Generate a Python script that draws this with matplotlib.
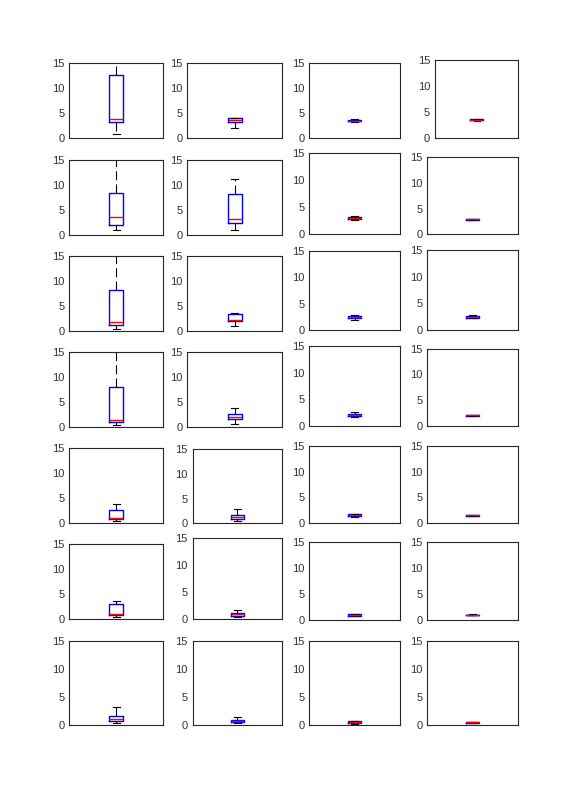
import matplotlib
matplotlib.use("Agg")
import matplotlib.pyplot as plt
from matplotlib import font_manager

plt.rcParams['lines.scale_dashes'] = False

# pick the regular (non-narrow) Liberation Sans face
_font = None
for f in font_manager.findSystemFonts():
    if f.endswith('LiberationSans-Regular.ttf'):
        _font = f
        break
if _font:
    tick_fp = font_manager.FontProperties(fname=_font, size=8)
else:
    tick_fp = font_manager.FontProperties(family='DejaVu Sans', size=7.5)

# ---- data: 7 rows x 4 columns of box statistics ----
whislo = [
    [0.8, 2.1, 3.2, 3.4],
    [0.95, 1.0, 2.6, 2.8],
    [0.5, 1.0, 1.9, 2.2],
    [0.4, 0.7, 1.6, 1.85],
    [0.45, 0.5, 1.2, 1.35],
    [0.4, 0.3, 0.7, 0.9],
    [0.36, 0.3, 0.2, 0.3],
]
q1 = [
    [3.2, 3.2, 3.35, 3.45],
    [1.9, 2.3, 2.8, 2.85],
    [1.2, 2.0, 2.3, 2.35],
    [0.95, 1.6, 1.8, 1.9],
    [0.8, 0.9, 1.3, 1.4],
    [0.74, 0.62, 0.85, 0.95],
    [0.71, 0.54, 0.35, 0.38],
]
med = [
    [3.8, 3.6, 3.5, 3.55],
    [3.5, 3.1, 3.0, 2.9],
    [1.9, 2.2, 2.5, 2.5],
    [1.35, 2.0, 2.0, 2.0],
    [1.1, 1.2, 1.5, 1.5],
    [0.94, 0.93, 1.0, 1.0],
    [1.0, 0.77, 0.5, 0.45],
]
q3 = [
    [12.5, 4.1, 3.65, 3.65],
    [8.4, 8.2, 3.15, 2.95],
    [8.3, 3.4, 2.7, 2.65],
    [8.1, 2.6, 2.2, 2.1],
    [2.6, 1.7, 1.7, 1.6],
    [3.0, 1.18, 1.15, 1.05],
    [1.67, 0.95, 0.65, 0.52],
]
whishi = [
    [17.0, 4.1, 3.8, 3.7],
    [17.0, 11.2, 3.35, 3.0],
    [17.0, 3.6, 2.9, 2.75],
    [17.0, 3.8, 2.6, 2.15],
    [3.9, 2.8, 1.8, 1.65],
    [3.7, 1.74, 1.2, 1.1],
    [3.15, 1.37, 0.8, 0.6],
]
yticks = [0, 5, 10, 15]

# ---- layout (pixel boxes: left, right, top, bottom) ----
W, H = 574, 792
layout = [
    [(69.3, 163.3, 62.7, 138.3), (187.3, 282.3, 62.7, 138.3), (309.3, 400, 62.7, 138.3), (435, 518.3, 60, 138.3)],
    [(69.3, 163.3, 160, 234.7), (187.3, 282.3, 160, 234.7), (309.3, 400, 152.7, 234.3), (427.3, 517.7, 157.3, 234.3)],
    [(69.3, 163.3, 256, 331), (187.3, 282.3, 256, 331), (309.3, 400, 251, 330), (427.3, 517.7, 250.3, 330)],
    [(69.3, 163.3, 352, 427), (187.3, 282.3, 352, 427), (309.3, 400, 346.3, 425.7), (427.3, 517.7, 348.7, 425.7)],
    [(69.3, 163.3, 448.3, 523.3), (192.7, 281.7, 449.3, 523.3), (309.3, 400, 446, 523), (427.3, 517.7, 446, 523)],
    [(69.3, 163.3, 544.3, 619), (192.7, 282, 538.3, 619), (309.3, 400, 542, 620), (427.3, 517.7, 542, 620)],
    [(69.3, 163.3, 641, 725), (192.7, 282, 641, 725), (309.3, 400, 641, 725), (427.3, 517.7, 641, 725)],
]

fig = plt.figure(figsize=(W / 100, H / 100), dpi=100)
fig.patch.set_facecolor('white')

for r in range(7):
    for c in range(4):
        l, rr, t, b = layout[r][c]
        ax = fig.add_axes([l / W, 1 - b / H, (rr - l) / W, (b - t) / H])
        stats = [dict(whislo=whislo[r][c], q1=q1[r][c], med=med[r][c],
                      q3=q3[r][c], whishi=whishi[r][c], fliers=[])]
        ax.bxp(stats, positions=[1], widths=0.15, showfliers=False,
               boxprops=dict(color='#0000ff', linewidth=1.0),
               medianprops=dict(color='#ff0000', linewidth=1.0),
               whiskerprops=dict(color='black', linewidth=0.8,
                                 linestyle=(0, (6.5, 3.0))),
               capprops=dict(color='black', linewidth=0.8),
               capwidths=0.075)
        ax.set_xlim(0.5, 1.5)
        ax.set_ylim(0, 15)
        ax.set_yticks(yticks)
        ax.set_yticklabels([str(v) for v in yticks], fontproperties=tick_fp)
        ax.set_xticks([])
        ax.tick_params(axis='y', length=0, labelcolor='#333333', pad=3.5)
        for s in ax.spines.values():
            s.set_color('#262626')
            s.set_linewidth(0.8)

fig.savefig('out.png', dpi=100, facecolor='white')
